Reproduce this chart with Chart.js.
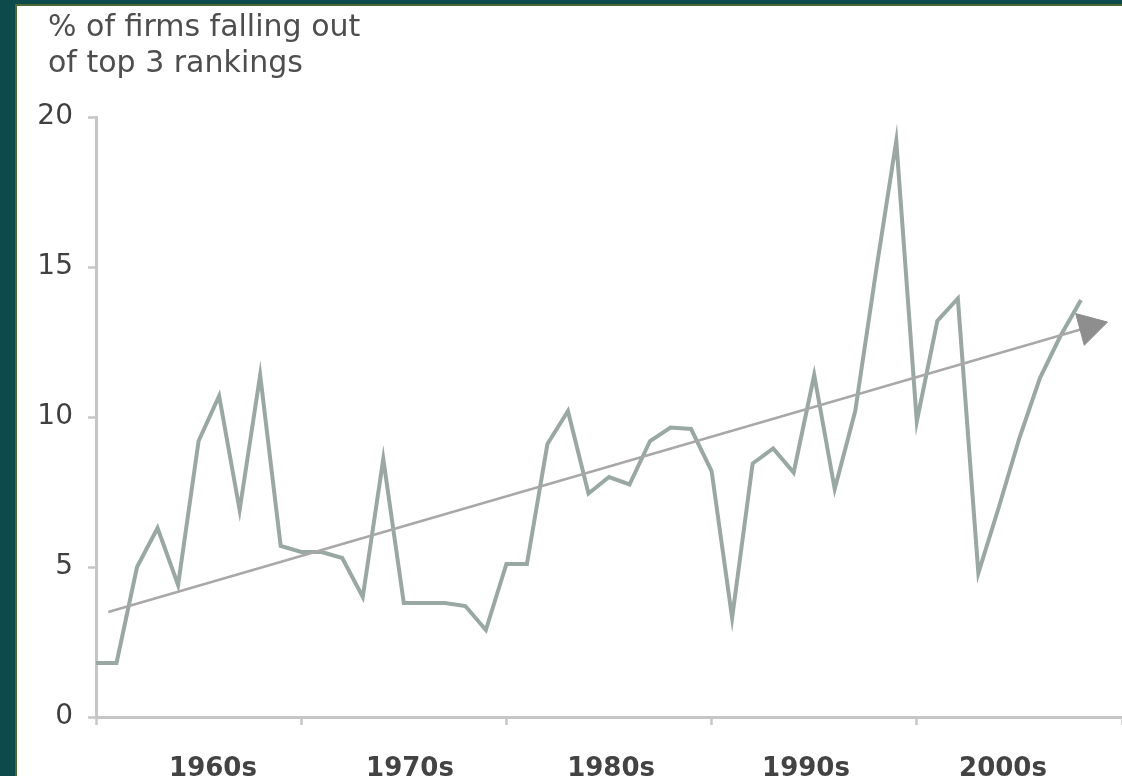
<!DOCTYPE html>
<html>
<head>
<meta charset="utf-8">
<script src="https://cdn.jsdelivr.net/npm/chart.js@4.4.1/dist/chart.umd.min.js"></script>
<style>
  body { margin: 0; background: #0c4a4c; width: 1122px; height: 776px; overflow: hidden; }
  #frame {
    position: absolute; left: 15px; top: 4px; width: 1105px; height: 770px;
    border-left: 2px solid #4d6a36; border-top: 2px solid #4d6a36; background: #fff;
  }
  #title {
    position: absolute; left: 31px; top: 2px;
    font: 30px "DejaVu Sans", sans-serif; line-height: 36px; color: #4e4e4e;
  }
  canvas { display: block; }
</style>
</head>
<body>
<div id="frame">
  <div id="title">% of firms falling out<br>of top 3 rankings</div>
  <canvas id="myChart" width="1105" height="770"></canvas>
</div>
<script>
// yearly share of firms dropping out of the top 3
const years = [1960, 1961, 1962, 1963, 1964, 1965, 1966, 1967, 1968, 1969,
               1970, 1971, 1972, 1973, 1974, 1975, 1976, 1977, 1978, 1979,
               1980, 1981, 1982, 1983, 1984, 1985, 1986, 1987, 1988, 1989,
               1990, 1991, 1992, 1993, 1994, 1995, 1996, 1997, 1998, 1999,
               2000, 2001, 2002, 2003, 2004, 2005, 2006, 2007, 2008];
const firmsOut = [1.8, 1.8, 5.0, 6.3, 4.4, 9.2, 10.7, 6.9, 11.4, 5.7,
                  5.5, 5.5, 5.3, 4.0, 8.6, 3.8, 3.8, 3.8, 3.7, 2.9,
                  5.1, 5.1, 9.1, 10.2, 7.45, 8.0, 7.75, 9.2, 9.65, 9.6,
                  8.2, 3.3, 8.45, 8.95, 8.15, 11.4, 7.6, 10.2, 14.8, 19.2,
                  9.85, 13.2, 13.95, 4.8, 7.0, 9.3, 11.3, 12.7, 13.9];

// trend arrow
const trendYears = [1960.6, 2008.4];
const trendValues = [3.5, 13.0];

const yTicks = [0, 5, 10, 15, 20];
const decadeTicks = [1960, 1970, 1980, 1990, 2000, 2010];
const decadeLabels = ['1960s', '1970s', '1980s', '1990s', '2000s'];
const decadeLabelAt = [1965.7, 1975.3, 1985.1, 1994.6, 2004.2];

const axisGray = '#c6c6c6';
const ctx = document.getElementById('myChart');

new Chart(ctx, {
    type: 'line',
    data: {
        datasets: [
            {
                label: 'trend',
                data: trendYears.map((x, i) => ({ x: x, y: trendValues[i] })),
                borderColor: '#a8a8a8',
                borderWidth: 2.5,
                pointRadius: [0, 19],
                pointStyle: 'triangle',
                rotation: 75,
                pointBackgroundColor: '#8e8e8e',
                pointBorderColor: '#8e8e8e',
                pointBorderWidth: 1,
                fill: false
            },
            {
                label: '% of firms falling out of top 3 rankings',
                data: years.map((x, i) => ({ x: x, y: firmsOut[i] })),
                borderColor: '#9aa8a4',
                borderWidth: 4,
                pointRadius: 0,
                tension: 0,
                fill: false
            }
        ]
    },
    options: {
        responsive: false,
        animation: false,
        layout: { autoPadding: false, padding: { top: 111, left: 0, right: 0, bottom: 0 } },
        plugins: {
            legend: { display: false },
            tooltip: { enabled: false }
        },
        scales: {
            x: {
                type: 'linear',
                min: 1960,
                max: 2010,
                afterBuildTicks: s => {
                    const t = decadeTicks.map(v => ({ value: v, label: '' }));
                    decadeLabelAt.forEach((v, i) => t.push({ value: v, label: decadeLabels[i] }));
                    s.ticks = t.sort((a, b) => a.value - b.value);
                },
                afterFit: s => { s.height = 59; s.paddingLeft = 0; s.paddingRight = 0; },
                border: { display: true, color: axisGray, width: 3 },
                grid: {
                    drawOnChartArea: false,
                    tickLength: 8,
                    tickWidth: 2.5,
                    tickColor: c => (c.tick && decadeTicks.includes(c.tick.value)) ? axisGray : 'rgba(0,0,0,0)'
                },
                ticks: {
                    autoSkip: false,
                    maxRotation: 0,
                    padding: 29,
                    color: '#434343',
                    font: { family: 'DejaVu Sans', size: 26, weight: 'bold' },
                    callback: function (v, i, ticks) { return ticks[i].label; }
                }
            },
            y: {
                min: 0,
                max: 20,
                afterFit: s => { s.width = 79; },
                afterBuildTicks: s => { s.ticks = yTicks.map(v => ({ value: v })); },
                border: { display: true, color: axisGray, width: 3 },
                grid: {
                    drawOnChartArea: false,
                    tickLength: 8,
                    tickWidth: 2.5,
                    tickColor: axisGray
                },
                ticks: {
                    padding: 15,
                    color: '#404040',
                    font: { family: 'DejaVu Sans', size: 28 }
                }
            }
        }
    }
});
</script>
</body>
</html>
